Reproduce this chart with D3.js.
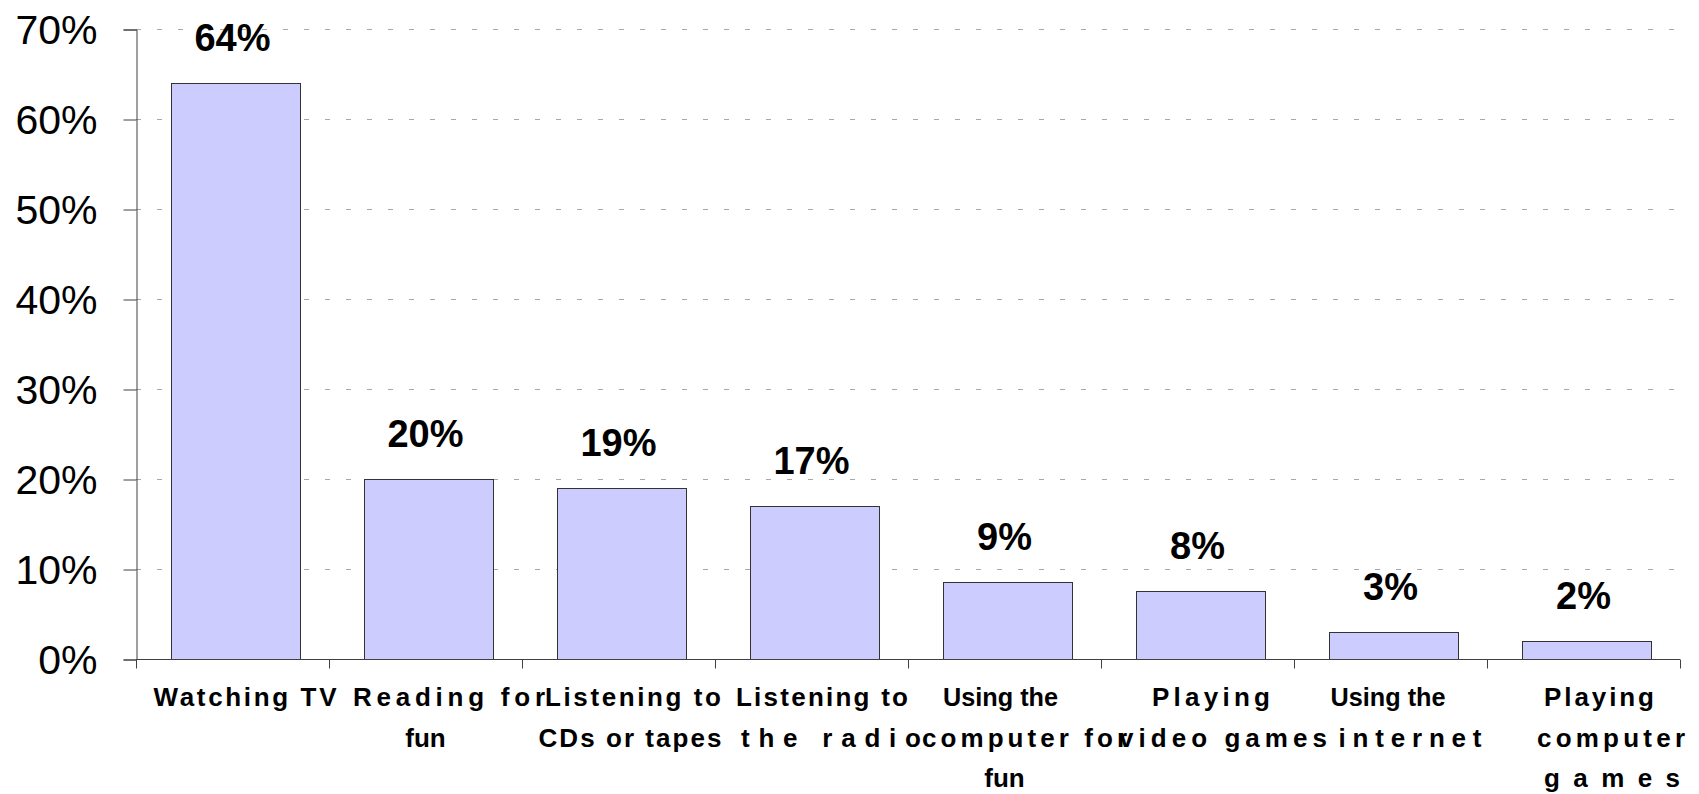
<!DOCTYPE html>
<html>
<head>
<meta charset="utf-8">
<script src="https://cdn.jsdelivr.net/npm/d3@7"></script>
<style>
  body { margin: 0; background: #fff; }
  svg { display: block; }
</style>
</head>
<body>
<div id="chart"></div>
<script>
// data
const categories = [
  "Watching TV", "Reading for fun", "Listening to CDs or tapes", "Listening to the radio",
  "Using the computer for fun", "Playing video games", "Using the internet", "Playing computer games"
];
const shares = [0.64, 0.20, 0.19, 0.17, 0.086, 0.076, 0.03, 0.02];
const labelLines = [
  ["Watching TV"],
  ["Reading for", "fun"],
  ["Listening to", "CDs or tapes"],
  ["Listening to", "the radio"],
  ["Using the", "computer for", "fun"],
  ["Playing", "video games"],
  ["Using the", "internet"],
  ["Playing", "computer", "games"]
];
const yTicks = [0, 0.1, 0.2, 0.3, 0.4, 0.5, 0.6, 0.7];

// how each wrapped label line is spread out (width, shift from band centre), null = as is
const lineFit = [
  [[183, 12.5]],
  [[192, 23.5], null],
  [[176, 14.5], [183, 11.5]],
  [[172, 10.5], [180, 19.5]],
  [[115, -4], [205, 20], null],
  [[118, 13.5], [208, 25.5]],
  [[115, -2.5], [143, 19.5]],
  [[110, 15.5], [148, 27.5], [136, 28.5]]
];

const width = 1699;
const height = 794;
const margin = { top: 29, right: 19, bottom: 135, left: 136 };

const svg = d3.select("#chart")
  .append("svg")
  .attr("width", width)
  .attr("height", height);

const x = d3.scaleBand()
  .domain(categories)
  .range([margin.left, width - margin.right])
  .paddingInner(0.332)
  .paddingOuter(0.166);

const y = d3.scaleLinear()
  .domain([0, 0.7])
  .range([height - margin.bottom, margin.top]);

const pct = d3.format(".0%");
const axisColor = "#404040";
const barShift = 3;

// grid
svg.append("g")
  .selectAll("line")
  .data(yTicks.filter(d => d > 0))
  .join("line")
  .attr("x1", margin.left)
  .attr("x2", width - margin.right)
  .attr("y1", d => Math.round(y(d)) + 0.5)
  .attr("y2", d => Math.round(y(d)) + 0.5)
  .attr("stroke", "#a8a8a8")
  .attr("stroke-width", 1)
  .attr("stroke-dasharray", "5,16");

// bars
svg.append("g")
  .selectAll("rect")
  .data(categories)
  .join("rect")
  .attr("x", d => Math.round(x(d) + barShift) + 0.5)
  .attr("y", (d, i) => Math.round(y(shares[i])) + 0.5)
  .attr("width", Math.round(x.bandwidth()))
  .attr("height", (d, i) => Math.round(y(0)) - Math.round(y(shares[i])))
  .attr("fill", "#ccccff")
  .attr("stroke", "#333")
  .attr("stroke-width", 1);

// value labels
svg.append("g")
  .selectAll("text")
  .data(categories)
  .join("text")
  .attr("x", d => x(d) + x.bandwidth() / 2)
  .attr("y", (d, i) => y(shares[i]) - 32)
  .attr("text-anchor", "middle")
  .attr("font-family", "Liberation Sans, Arial, sans-serif")
  .attr("font-weight", "bold")
  .attr("font-size", 38)
  .attr("fill", "#000")
  .text((d, i) => pct(shares[i]));

// y axis
const yAxis = svg.append("g")
  .attr("transform", `translate(${margin.left + 0.5},0.5)`)
  .call(d3.axisLeft(y).tickValues(yTicks).tickFormat(pct).tickSize(13).tickPadding(26));
yAxis.select(".domain").attr("stroke", axisColor);
yAxis.selectAll(".tick line").attr("stroke", axisColor);
yAxis.selectAll(".tick text")
  .attr("font-family", "Liberation Sans, Arial, sans-serif")
  .attr("font-size", 41)
  .attr("fill", "#000")
  .attr("dy", "0.33em");

// x axis: baseline with ticks on band boundaries
const base = Math.round(y(0)) + 0.5;
const step = x.step();
const bounds = d3.range(categories.length + 1).map(i => x.range()[0] + i * step);
const xAxis = svg.append("g");
xAxis.append("line")
  .attr("x1", margin.left)
  .attr("x2", width - margin.right)
  .attr("y1", base)
  .attr("y2", base)
  .attr("stroke", axisColor);
xAxis.selectAll("line.tk")
  .data(bounds)
  .join("line")
  .attr("class", "tk")
  .attr("x1", d => Math.round(d) + 0.5)
  .attr("x2", d => Math.round(d) + 0.5)
  .attr("y1", base)
  .attr("y2", base + 9)
  .attr("stroke", axisColor);

// category labels
const labelG = svg.append("g")
  .attr("font-family", "Liberation Sans, Arial, sans-serif")
  .attr("font-weight", "bold")
  .attr("font-size", 26)
  .attr("fill", "#000");

const firstBaseline = 706;
const lineGap = 40.5;

categories.forEach((c, i) => {
  const cx = x(c) + x.bandwidth() / 2;
  labelLines[i].forEach((line, j) => {
    const fit = lineFit[i][j];
    const t = labelG.append("text")
      .attr("x", cx + (fit ? fit[1] : 0))
      .attr("y", firstBaseline + j * lineGap)
      .attr("text-anchor", "middle")
      .text(line);
    if (fit) {
      const natural = t.node().getComputedTextLength();
      t.attr("textLength", fit[0])
        .attr("lengthAdjust", fit[0] < natural ? "spacingAndGlyphs" : "spacing");
    }
  });
});
</script>
</body>
</html>
